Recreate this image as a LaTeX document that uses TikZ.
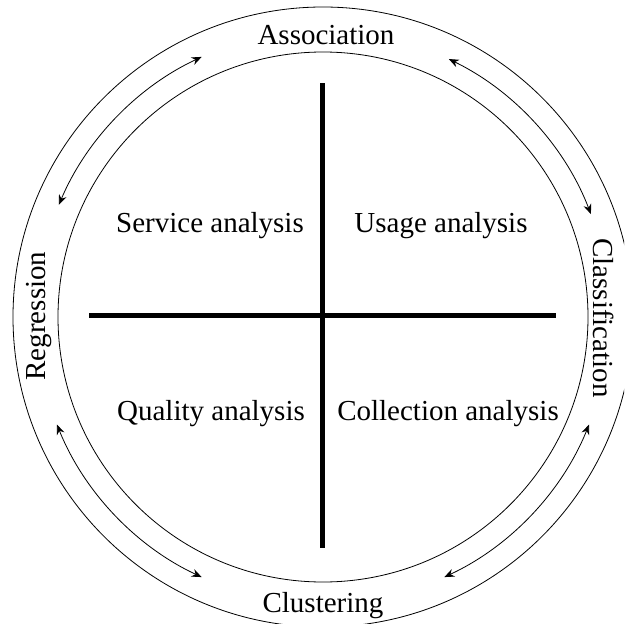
\documentclass[tikz,border=0pt]{standalone}
\usepackage{fontspec}
\setmainfont{Liberation Serif}
\usetikzlibrary{arrows.meta}
\begin{document}
\begin{tikzpicture}[x=1pt,y=-1pt,
  ring/.style={draw, line width=0.8pt},
  cyc/.style={line width=0.8pt, {Stealth[length=10pt,width=8pt]}-{Stealth[length=10pt,width=8pt]}},
  bar/.style={line width=5pt},
  lab/.style={font=\fontsize{29}{34}\selectfont, inner sep=0pt}]
\useasboundingbox (0,0) rectangle (624,624);
\clip (0,0) rectangle (624,624);
\coordinate (c) at (323,317);
\draw[ring] (c) circle[radius=310];
\draw[ring] (c) circle[radius=265];
% cycle arrows
\draw[cyc] (c) ++(-64:287) coordinate (a1) arc[start angle=-64, end angle=-21, radius=287] coordinate (a2);
\draw[cyc] (c) ++(22:287) coordinate (b1) arc[start angle=22, end angle=65, radius=287] coordinate (b2);
\draw[cyc] (c) ++(115:287) coordinate (d1) arc[start angle=115, end angle=158, radius=287] coordinate (d2);
\draw[cyc] (c) ++(-157:287) coordinate (e1) arc[start angle=-157, end angle=-115, radius=287] coordinate (e2);
% cross
\coordinate (vt) at (322.5,83);
\coordinate (vb) at (322.5,548);
\coordinate (hl) at (89,315.5);
\coordinate (hr) at (556,315.5);
\draw[bar] (vt) -- (vb);
\draw[bar] (hl) -- (hr);
% labels
\node[lab, anchor=base] (assoc) at (326,44) {Association};
\node[lab, anchor=base] (clust) at (323,612) {Clustering};
\node[lab, rotate=90] (regr) at (39,316) {Regression};
\node[lab, rotate=-90] (class) at (604,318) {Classification};
\node[lab, anchor=base] (serv) at (210,232) {Service analysis};
\node[lab, anchor=base] (usage) at (441,232) {Usage analysis};
\node[lab, anchor=base] (qual) at (211,420) {Quality analysis};
\node[lab, anchor=base] (coll) at (448,420) {Collection analysis};
\end{tikzpicture}
\end{document}
